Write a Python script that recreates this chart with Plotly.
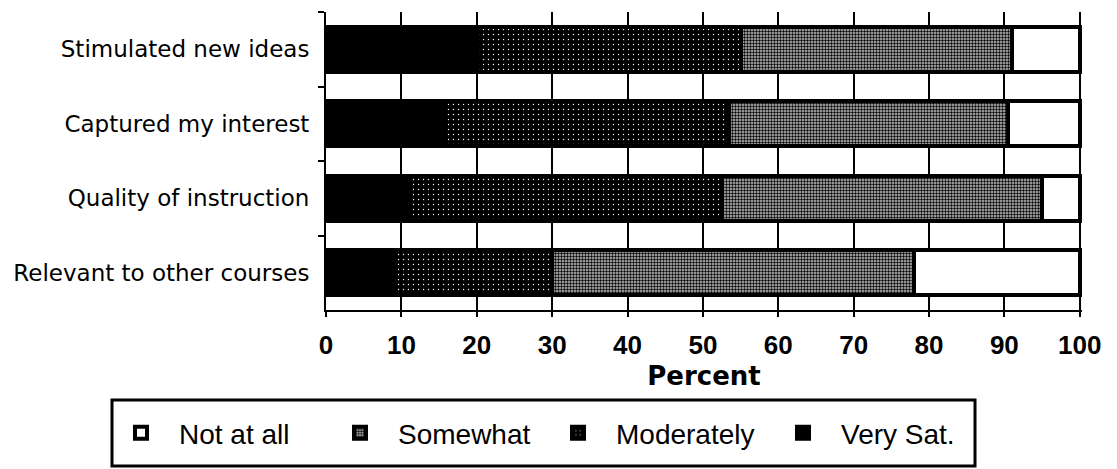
import plotly.graph_objects as go

categories = ["Stimulated new ideas", "Captured my interest",
              "Quality of instruction", "Relevant to other courses"]
very_sat = [20, 15.5, 11, 9]
moderately = [35, 38, 41.5, 21]
somewhat = [36, 37, 42.5, 48]
not_at_all = [9, 9.5, 5, 22]
x_ticks = [0, 10, 20, 30, 40, 50, 60, 70, 80, 90, 100]
x_tick_labels = [str(v) for v in x_ticks]

W, H = 1117, 469
L, R, T, B = 326, 35, 12, 159
PW, PH = W - L - R, H - T - B


def px_to_paper_x(px):
    return (px - L) / PW


def px_to_paper_y(py):
    return (H - B - py) / PH


bar_w = 0.61
line = dict(color="black", width=4)

fig = go.Figure()
fig.add_trace(go.Bar(
    y=categories, x=very_sat, orientation="h", name="Very Sat.", legend="legend4",
    width=bar_w, marker=dict(color="black", line=line)))
fig.add_trace(go.Bar(
    y=categories, x=moderately, orientation="h", name="Moderately", legend="legend3",
    width=bar_w, marker=dict(color="black", line=line,
                             pattern=dict(shape=".", bgcolor="black", fgcolor="white",
                                          size=5, solidity=0.06, fillmode="replace"))))
fig.add_trace(go.Bar(
    y=categories, x=somewhat, orientation="h", name="Somewhat", legend="legend2",
    width=bar_w, marker=dict(color="#888888", line=line,
                             pattern=dict(shape=".", bgcolor="#c4c4c4", fgcolor="#000000",
                                          size=3, solidity=0.5, fillmode="replace"))))
fig.add_trace(go.Bar(
    y=categories, x=not_at_all, orientation="h", name="Not at all", legend="legend",
    width=bar_w, marker=dict(color="white", line=line)))

# legend frame
fig.add_shape(type="rect", xref="paper", yref="paper",
              x0=px_to_paper_x(112), x1=px_to_paper_x(975),
              y0=px_to_paper_y(400), y1=px_to_paper_y(466),
              line=dict(color="black", width=3), fillcolor="rgba(0,0,0,0)", layer="above")


def legend_at(px_left):
    return dict(
        orientation="h",
        xref="container", yref="container",
        x=px_left / W, xanchor="left", y=1 - 433 / H, yanchor="middle",
        borderwidth=0, bgcolor="rgba(0,0,0,0)",
        font=dict(family="Liberation Sans, Arial, sans-serif", size=28),
        itemwidth=66,
    )


fig.update_layout(
    width=W, height=H,
    barmode="stack",
    margin=dict(l=L, r=R, t=T, b=B, pad=0, autoexpand=False),
    paper_bgcolor="white", plot_bgcolor="white",
    font=dict(family="Liberation Sans, Arial, sans-serif", color="black", size=18),
    showlegend=True,
    legend=legend_at(103),
    legend2=legend_at(322),
    legend3=legend_at(540),
    legend4=legend_at(765),
)
fig.update_xaxes(
    range=[0, 100.3], tickvals=x_ticks, ticktext=x_tick_labels,
    showgrid=True, gridcolor="black", gridwidth=2,
    showline=True, linecolor="black", linewidth=2,
    ticks="outside", ticklen=5, tickwidth=2, tickcolor="black",
    zeroline=False,
    ticklabelstandoff=6,
    tickfont=dict(family="Liberation Sans, Arial, sans-serif", size=26, weight="bold"),
    title=dict(text="Percent", standoff=8,
               font=dict(family="DejaVu Sans", size=26, weight="bold")),
)
fig.update_yaxes(
    categoryorder="array", categoryarray=categories,
    range=[3.5, -0.5],
    showgrid=False, showline=True, linecolor="black", linewidth=2,
    ticks="outside", tickson="boundaries", ticklen=6, tickwidth=2, tickcolor="black",
    ticklabelstandoff=10,
    tickfont=dict(family="DejaVu Sans", size=23),
    zeroline=False,
)

fig.write_html("out.html")
